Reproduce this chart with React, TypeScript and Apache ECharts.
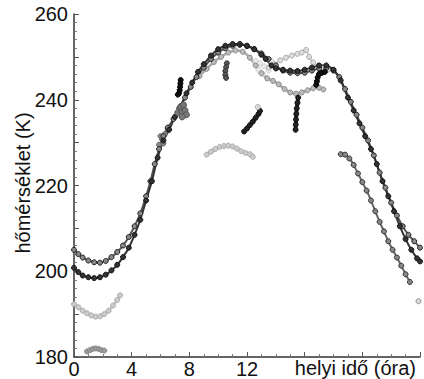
import React, { useEffect, useRef } from "react";
import * as echarts from "echarts";

// Tick labels
const xTickLabels = [0, 4, 8, 12];
const yTickLabels = [180, 200, 220, 240, 260];
const xName = "helyi idő (óra)";
const yName = "hőmérséklet (K)";

// Tracks: [local time (h), temperature (K)]
const trackUpper: number[][] = [
  [0, 205], [0.3, 204], [0.6, 203.2], [1, 202.5], [1.4, 202.1], [1.8, 202], [2.2, 202.4], [2.6, 203.3],
  [3, 204.5], [3.4, 206], [3.8, 208], [4.2, 210.5], [4.6, 213.5], [5, 217.5], [5.3, 221], [5.6, 225],
  [5.9, 228.5], [6.2, 231.5], [6.5, 233.5], [6.9, 235.5], [7.3, 238], [7.7, 240.5], [8.1, 243],
  [8.5, 245.3], [9, 247.5], [9.5, 249.5], [10, 251], [10.5, 252], [11, 252.6], [11.5, 252.8],
  [12, 252.5], [12.5, 251.8], [13, 250.8], [13.5, 249.5], [14, 248], [14.5, 246.8], [15, 246.3],
  [15.5, 246.2], [16, 246.3], [16.5, 246.8], [17, 247.3], [17.5, 247.4], [18, 246.8], [18.4, 245.3],
  [18.8, 242.5], [19.2, 239.5], [19.6, 236.5], [20, 233.5], [20.4, 230.5], [20.8, 227], [21.2, 223],
  [21.6, 219.5], [22, 216], [22.4, 213], [22.8, 210.5], [23.2, 208.5], [23.6, 207], [24, 205.5],
];
const trackLower: number[][] = [
  [0, 200.8], [0.3, 199.8], [0.6, 199], [1, 198.6], [1.4, 198.4], [1.8, 198.6], [2.2, 199.2],
  [2.6, 200.2], [3, 201.5], [3.4, 203.3], [3.8, 205.5], [4.2, 208.5], [4.6, 212], [5, 216.5],
  [5.4, 221], [5.8, 226.5], [6.2, 230.5], [6.6, 233], [7, 236], [7.4, 238.5], [7.8, 241.5],
  [8.2, 244], [8.6, 246.5], [9, 248.3], [9.5, 250.3], [10, 251.8], [10.5, 252.6], [11, 253],
  [11.5, 253], [12, 252.6], [12.5, 251.8], [13, 250.5], [13.3, 249.5], [13.7, 248], [14, 247.3],
  [14.5, 247], [15, 246.8], [15.5, 246.7], [16, 247], [16.5, 247.5], [17, 248], [17.5, 248],
  [18, 247], [18.5, 244.5], [19, 240.5], [19.4, 237.5], [19.8, 234.5], [20.2, 231.5], [20.6, 228.5],
  [21, 225], [21.4, 221], [21.8, 217.5], [22.2, 214], [22.6, 210.5], [23, 207.5], [23.4, 205],
  [23.8, 203], [24, 202.3],
];
const trackEvening: number[][] = [
  [18.5, 227.3], [18.8, 227.2], [19.1, 226.3], [19.4, 224.8], [19.7, 222.8], [20, 220.8], [20.3, 218.8],
  [20.6, 216.5], [20.9, 214], [21.2, 211.5], [21.5, 209.3], [21.8, 207], [22.1, 205], [22.4, 203.2],
  [22.7, 201.3], [23, 199.3], [23.3, 197.5],
];
const pointLate: number[][] = [[23.9, 193]];
const trackColdMorning: number[][] = [
  [0, 192.3], [0.3, 191.6], [0.6, 190.8], [0.9, 190.2], [1.2, 189.7], [1.5, 189.4], [1.8, 189.5],
  [2.1, 190], [2.4, 190.8], [2.7, 192], [3, 193.3], [3.2, 194.4],
];
const trackColdest: number[][] = [
  [0.9, 181.3], [1.1, 181.6], [1.3, 181.9], [1.5, 182], [1.7, 181.9], [1.9, 181.6], [2.1, 181.5],
];
const trackNoonLow: number[][] = [
  [9.2, 227.2], [9.5, 227.9], [9.8, 228.5], [10.1, 229], [10.4, 229.2], [10.7, 229.3], [11, 229.1],
  [11.3, 228.6], [11.6, 228], [11.9, 227.6], [12.2, 227.3], [12.4, 226.7],
];
const trackNoonDiag: number[][] = [
  [11.8, 232.6], [12, 233.3], [12.2, 234.1], [12.4, 234.9], [12.6, 235.8], [12.8, 236.7], [12.9, 237.4],
];
const trackNoonDiagTip: number[][] = [[12.75, 238.3]];
const trackMorningStreak: number[][] = [
  [7.4, 244.6], [7.38, 243.8], [7.36, 243], [7.33, 242.2], [7.28, 241.5], [7.2, 241.2],
];
const trackMorningBlob: number[][] = [
  [7.2, 237], [7.4, 238.3], [7.5, 237.2], [7.6, 238.8], [7.7, 237.5], [7.8, 236.5], [7.5, 236],
];
const trackMorningGray: number[][] = [
  [5.9, 229.5], [6.1, 230.8], [6.3, 232], [6.5, 233.2], [6.2, 229.8], [6.0, 231.5],
];
const trackAfternoonDrop: number[][] = [
  [15.55, 240.5], [15.5, 239.3], [15.45, 238], [15.42, 236.7], [15.4, 235.4], [15.38, 234.2], [15.37, 233],
];
const trackAfternoonHook: number[][] = [
  [16.8, 243.5], [16.85, 244.3], [16.9, 245.2], [17, 246], [17.2, 246.3], [17.4, 246.5],
];
const trackMidGray: number[][] = [
  [8.7, 245.5], [9.2, 247.2], [9.7, 248.8], [10.2, 250], [10.7, 251], [11.2, 251.5], [11.7, 251.2],
  [12.2, 249.8], [12.6, 248], [13, 246.2], [13.4, 245], [13.8, 244.4], [14.2, 243.6], [14.6, 242.5],
  [15, 241.7], [15.4, 241.4], [15.8, 241.7], [16.2, 242.2], [16.6, 242.7], [17, 242.8], [17.3, 242.4],
];
const trackMidHook: number[][] = [
  [10.6, 248.5], [10.55, 247.6], [10.5, 246.7], [10.5, 245.8], [10.55, 245.1],
];
const trackLightArc: number[][] = [
  [13.5, 247.5], [13.9, 248.3], [14.3, 249.2], [14.7, 249.8], [15.1, 250.3], [15.5, 250.7], [15.8, 251],
  [16.1, 251.6], [16.3, 250], [16.6, 248.7], [17, 247.8], [17.3, 247.3], [17.6, 247],
];
const trackPale: number[][] = [
  [12.6, 249], [12.9, 248.5], [13.2, 247.8], [13.5, 246.8], [12.8, 247], [13.1, 246], [13.4, 249.5], [13.7, 249],
];

type Sty = { fill: string; border: string; line: string; size?: number; lineWidth?: number };

function track(name: string, data: number[][], s: Sty, connect = true) {
  return {
    name,
    type: "line",
    data,
    smooth: 0.2,
    symbol: "circle",
    symbolSize: s.size ?? 5,
    showAllSymbol: true,
    itemStyle: { color: s.fill, borderColor: s.border, borderWidth: 1 },
    lineStyle: { color: s.line, width: connect ? s.lineWidth ?? 2.5 : 0 },
    emphasis: { disabled: true },
  };
}

export default function App() {
  const ref = useRef<HTMLDivElement>(null);
  useEffect(() => {
    if (!ref.current) return;
    const chart = echarts.init(ref.current, undefined, { renderer: "svg" });
    const font = "'Liberation Sans', Arial, sans-serif";
    chart.setOption({
      animation: false,
      backgroundColor: "#ffffff",
      grid: { left: 74, right: 4, top: 14, bottom: 22, outerBoundsMode: "none" },
      xAxis: {
        type: "value",
        min: 0,
        max: 24,
        interval: 4,
        axisLine: { show: true, onZero: false, lineStyle: { color: "#333", width: 1.5 } },
        axisTick: { show: true, inside: true, length: 5, lineStyle: { color: "#555" } },
        minorTick: { show: true, splitNumber: 4, length: 3, lineStyle: { color: "#777" } },
        splitLine: { show: false },
        axisLabel: {
          margin: 2,
          fontSize: 20,
          lineHeight: 20,
          fontFamily: font,
          color: "#111",
          formatter: (v: number) => (xTickLabels.includes(v) ? String(v) : ""),
        },
      },
      yAxis: {
        type: "value",
        min: 180,
        max: 260,
        interval: 10,
        axisLine: { show: true, onZero: false, lineStyle: { color: "#333", width: 1.5 } },
        axisTick: { show: true, inside: true, length: 5, lineStyle: { color: "#555" } },
        minorTick: { show: true, splitNumber: 5, length: 3, lineStyle: { color: "#777" } },
        splitLine: { show: false },
        axisLabel: {
          margin: 6,
          fontSize: 20,
          fontFamily: font,
          color: "#111",
          formatter: (v: number) => (yTickLabels.includes(v) ? String(v) : ""),
        },
      },
      graphic: [
        {
          type: "text",
          right: 8,
          top: 358,
          style: { text: xName, fontSize: 20, fontFamily: font, fill: "#111" },
        },
        {
          type: "text",
          x: 23,
          y: 183,
          rotation: Math.PI / 2,
          style: {
            text: yName,
            fontSize: 20,
            fontFamily: font,
            fill: "#111",
            align: "center",
            verticalAlign: "middle",
          },
        },
      ],
      series: [
        track("pale", trackPale, { fill: "#eeeeee", border: "#cccccc", line: "#e4e4e4" }, false),
        track("lightArc", trackLightArc, { fill: "#dddddd", border: "#aaaaaa", line: "#cccccc", lineWidth: 2 }),
        track("noonLow", trackNoonLow, { fill: "#cccccc", border: "#aaaaaa", line: "#c4c4c4" }),
        track("coldMorning", trackColdMorning, { fill: "#cccccc", border: "#aaaaaa", line: "#c4c4c4" }),
        track("coldest", trackColdest, { fill: "#999999", border: "#888888", line: "#999999" }),
        track("midGray", trackMidGray, { fill: "#bbbbbb", border: "#888888", line: "#aaaaaa" }),
        track("morningGray", trackMorningGray, { fill: "#888888", border: "#666666", line: "#888888" }, false),
        track("evening", trackEvening, { fill: "#888888", border: "#333333", line: "#666666", lineWidth: 2 }),
        track("late", pointLate, { fill: "#dddddd", border: "#888888", line: "#999999" }, false),
        track("upper", trackUpper, { fill: "#888888", border: "#222222", line: "#555555", lineWidth: 2 }),
        track("lower", trackLower, { fill: "#333333", border: "#111111", line: "#333333", lineWidth: 2 }),
        track("morningBlob", trackMorningBlob, { fill: "#777777", border: "#555555", line: "#777777", size: 6 }),
        track("midHook", trackMidHook, { fill: "#555555", border: "#333333", line: "#555555" }),
        track("morningStreak", trackMorningStreak, { fill: "#111111", border: "#000000", line: "#111111", lineWidth: 4 }),
        track("noonDiag", trackNoonDiag, { fill: "#222222", border: "#111111", line: "#222222", lineWidth: 4 }),
        track("noonDiagTip", trackNoonDiagTip, { fill: "#dddddd", border: "#aaaaaa", line: "#aaaaaa" }, false),
        track("afternoonDrop", trackAfternoonDrop, { fill: "#222222", border: "#111111", line: "#222222", lineWidth: 4 }),
        track("afternoonHook", trackAfternoonHook, { fill: "#111111", border: "#000000", line: "#111111", lineWidth: 4 }),
      ],
    });
    return () => chart.dispose();
  }, []);
  return (
    <div
      ref={ref}
      style={{ position: "fixed", left: 0, top: 0, width: 424, height: 379, background: "#fff" }}
    />
  );
}
